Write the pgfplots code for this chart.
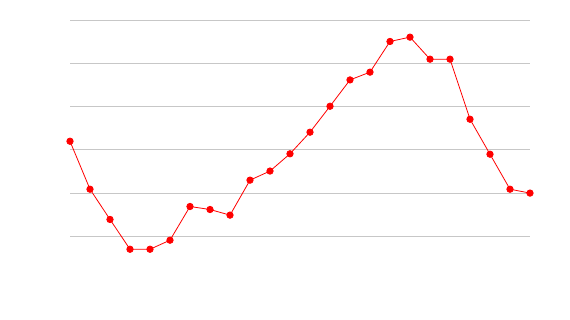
\documentclass[border=0pt]{standalone}
\usepackage{pgfplots}
\pgfplotsset{compat=1.18}
\begin{document}
\begin{tikzpicture}
\useasboundingbox[fill=white] (0,0) rectangle (570pt,320pt);
\begin{axis}[
  at={(70pt,40.5pt)}, anchor=south west,
  scale only axis, width=460pt, height=259.2pt,
  xmin=0, xmax=23, ymin=-1, ymax=5,
  ytick={0,1,2,3,4,5}, xtick=\empty,
  yticklabels={}, 
  ymajorgrids, grid style={color=black!22, line width=0.8pt},
  axis line style={draw=none}, major tick style={draw=none},
  clip=false,
]
\addplot[red, line width=0.8pt, mark=*, mark size=3.2pt, mark options={fill=red, draw=red}] coordinates {
(0,2.20) (1,1.09) (2,0.39) (3,-0.30) (4,-0.30) (5,-0.09) (6,0.69) (7,0.62)
(8,0.49) (9,1.30) (10,1.51) (11,1.91) (12,2.41) (13,3.01) (14,3.62) (15,3.80)
(16,4.51) (17,4.61) (18,4.10) (19,4.10) (20,2.71) (21,1.90) (22,1.09) (23,1.00)
};
\end{axis}
\end{tikzpicture}
\end{document}
